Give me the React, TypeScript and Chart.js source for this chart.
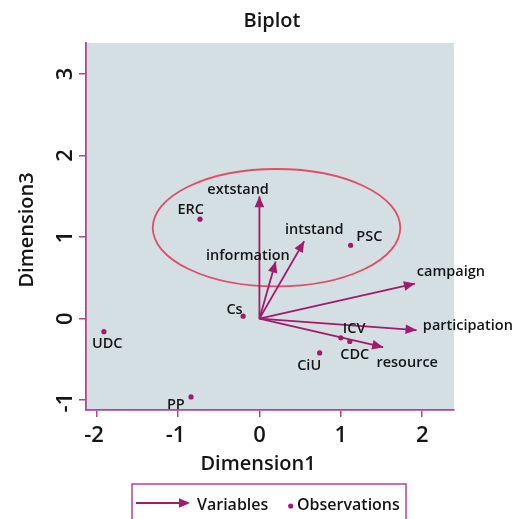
import React, { useEffect, useRef } from "react";
import { Chart, registerables } from "chart.js";
Chart.register(...registerables);

// ---- data ----
const obsNames = ["ERC", "PSC", "Cs", "UDC", "PP", "CiU", "ICV", "CDC"];
const obsX = [-0.73, 1.12, -0.2, -1.91, -0.84, 0.74, 1.0, 1.11];
const obsY = [1.22, 0.9, 0.03, -0.16, -0.96, -0.42, -0.235, -0.28];

const varNames = ["extstand", "intstand", "information", "campaign", "participation", "resource"];
const varX = [0.0, 0.55, 0.2, 1.91, 1.93, 1.52];
const varY = [1.5, 0.95, 0.7, 0.43, -0.14, -0.35];

const xTicks = [-2, -1, 0, 1, 2];
const yTicks = [-1, 0, 1, 2, 3];
const xTickLabels = ["-2", "-1", "0", "1", "2"];
const yTickLabels = ["-1", "0", "1", "2", "3"];

const ellipseCenter = [0.21, 1.115];
const ellipseRadii = [1.52, 0.72];

const titleText = "Biplot";
const xTitle = "Dimension1";
const yTitle = "Dimension3";
const legendLabels = ["Variables", "Observations"];

// ---- styles (label offsets in px, text centred) ----
const obsLabelOffsets: [number, number][] = [
  [-9.3, -5], [18.7, -4.6], [-8.6, -2.4], [3.3, 16.6], [-15.2, 12.3], [-10.5, 17.3], [13.3, -4.4], [5, 18],
];
const varLabelOffsets: [number, number][] = [
  [-21.3, -2.7], [10, -7], [-27.8, -1.3], [36, -7.3], [51.3, 0], [24, 19.7],
];

const FONT = "'Open Sans', 'DejaVu Sans', sans-serif";
const plotBg = "#d3dfe2";
const markColor = "#a11a6c";
const axisColor = "#b5438e";
const ellipseColor = "#e24d68";
const textColor = "#151515";

const biplotPlugin = {
  id: "biplot",
  beforeDraw(chart: any) {
    const { ctx, chartArea: a } = chart;
    ctx.save();
    ctx.fillStyle = "#ffffff";
    ctx.fillRect(0, 0, chart.width, chart.height);
    ctx.fillStyle = plotBg;
    ctx.fillRect(a.left, a.top, a.right - a.left, a.bottom - a.top);
    ctx.restore();
  },
  beforeDatasetsDraw(chart: any) {
    const { ctx } = chart;
    const xs = chart.scales.x;
    const ys = chart.scales.y;
    const cx = xs.getPixelForValue(ellipseCenter[0]);
    const cy = ys.getPixelForValue(ellipseCenter[1]);
    const rx = xs.getPixelForValue(ellipseCenter[0] + ellipseRadii[0]) - cx;
    const ry = cy - ys.getPixelForValue(ellipseCenter[1] + ellipseRadii[1]);
    ctx.save();
    ctx.strokeStyle = ellipseColor;
    ctx.lineWidth = 1.8;
    ctx.beginPath();
    ctx.ellipse(cx, cy, rx, ry, 0, 0, Math.PI * 2);
    ctx.stroke();
    ctx.restore();
  },
  afterDatasetsDraw(chart: any) {
    const { ctx } = chart;
    ctx.save();
    ctx.font = `600 14.5px ${FONT}`;
    ctx.textAlign = "center";
    ctx.textBaseline = "alphabetic";
    for (let i = 0; i < varNames.length; i++) {
      const meta = chart.getDatasetMeta(i + 1);
      const p0 = meta.data[0];
      const p1 = meta.data[1];
      const ang = Math.atan2(p1.y - p0.y, p1.x - p0.x);
      const L = 11, W = 4.8;
      ctx.fillStyle = markColor;
      ctx.beginPath();
      ctx.moveTo(p1.x, p1.y);
      ctx.lineTo(p1.x - L * Math.cos(ang) + W * Math.sin(ang), p1.y - L * Math.sin(ang) - W * Math.cos(ang));
      ctx.lineTo(p1.x - L * Math.cos(ang) - W * Math.sin(ang), p1.y - L * Math.sin(ang) + W * Math.cos(ang));
      ctx.closePath();
      ctx.fill();
      ctx.fillStyle = textColor;
      const [dx, dy] = varLabelOffsets[i];
      ctx.fillText(varNames[i], p1.x + dx, p1.y + dy);
    }
    const om = chart.getDatasetMeta(0);
    for (let i = 0; i < obsNames.length; i++) {
      const p = om.data[i];
      const [dx, dy] = obsLabelOffsets[i];
      ctx.fillStyle = textColor;
      ctx.fillText(obsNames[i], p.x + dx, p.y + dy);
    }
    ctx.restore();
  },
  afterDraw(chart: any) {
    const { ctx } = chart;
    const xs = chart.scales.x;
    const ys = chart.scales.y;
    ctx.save();
    ctx.fillStyle = textColor;
    ctx.textAlign = "center";
    ctx.textBaseline = "alphabetic";
    // title
    ctx.font = `600 20px ${FONT}`;
    ctx.fillText(titleText, 272, 27);
    // tick labels
    ctx.font = `600 22px ${FONT}`;
    xTicks.forEach((v, i) => {
      const lab = xTickLabels[i];
      const shift = lab.startsWith("-") ? 2.5 : 0;
      ctx.fillText(lab, xs.getPixelForValue(v) - shift, 442);
    });
    yTicks.forEach((v, i) => {
      const lab = yTickLabels[i];
      const shift = lab.startsWith("-") ? 2.5 : 0;
      ctx.save();
      ctx.translate(72, ys.getPixelForValue(v) + shift);
      ctx.rotate(-Math.PI / 2);
      ctx.fillText(lab, 0, 0);
      ctx.restore();
    });
    // axis titles
    ctx.font = `600 20px ${FONT}`;
    ctx.fillText(xTitle, 258, 470);
    ctx.save();
    ctx.translate(33, 230);
    ctx.rotate(-Math.PI / 2);
    ctx.fillText(yTitle, 0, 0);
    ctx.restore();

    // legend
    ctx.strokeStyle = axisColor;
    ctx.lineWidth = 1.5;
    ctx.strokeRect(132, 484, 274, 50);
    ctx.strokeStyle = markColor;
    ctx.lineWidth = 1.8;
    ctx.beginPath();
    ctx.moveTo(136, 503);
    ctx.lineTo(182, 503);
    ctx.stroke();
    ctx.fillStyle = markColor;
    ctx.beginPath();
    ctx.moveTo(190, 503);
    ctx.lineTo(179, 498.2);
    ctx.lineTo(179, 507.8);
    ctx.closePath();
    ctx.fill();
    ctx.beginPath();
    ctx.arc(290.7, 506, 2.6, 0, Math.PI * 2);
    ctx.fill();
    ctx.fillStyle = textColor;
    ctx.font = `600 16px ${FONT}`;
    ctx.textAlign = "left";
    ctx.fillText(legendLabels[0], 197, 510);
    ctx.fillText(legendLabels[1], 297, 510);
    ctx.restore();
  },
};

export default function App() {
  const ref = useRef<HTMLCanvasElement | null>(null);
  useEffect(() => {
    if (!ref.current) return;
    const datasets: any[] = [
      {
        label: "Observations",
        data: obsX.map((x, i) => ({ x, y: obsY[i] })),
        pointRadius: 2.6,
        pointBackgroundColor: markColor,
        pointBorderWidth: 0,
        showLine: false,
      },
      ...varNames.map((n, i) => ({
        label: n,
        data: [
          { x: 0, y: 0 },
          { x: varX[i], y: varY[i] },
        ],
        showLine: true,
        borderColor: markColor,
        borderWidth: 1.8,
        pointRadius: 0,
        fill: false,
      })),
    ];
    const chart = new Chart(ref.current, {
      type: "scatter",
      data: { datasets },
      plugins: [biplotPlugin],
      options: {
        animation: false,
        responsive: false,
        layout: { padding: { top: 43, right: 66, left: 0, bottom: 0 } },
        plugins: { legend: { display: false }, title: { display: false }, tooltip: { enabled: false } },
        scales: {
          x: {
            type: "linear",
            min: -2.13,
            max: 2.39,
            afterBuildTicks: (s: any) => {
              s.ticks = xTicks.map((v) => ({ value: v }));
            },
            afterFit: (s: any) => {
              s.height = 109;
            },
            ticks: { display: false },
            grid: { drawOnChartArea: false, drawTicks: true, tickLength: 7, color: axisColor, lineWidth: 1.5 },
            border: { display: true, color: axisColor, width: 1.8 },
          },
          y: {
            type: "linear",
            min: -1.12,
            max: 3.38,
            afterBuildTicks: (s: any) => {
              s.ticks = yTicks.map((v) => ({ value: v }));
            },
            afterFit: (s: any) => {
              s.width = 86;
            },
            ticks: { display: false },
            grid: { drawOnChartArea: false, drawTicks: true, tickLength: 7, color: axisColor, lineWidth: 1.5 },
            border: { display: true, color: axisColor, width: 1.8 },
          },
        },
      } as any,
    });
    (document as any).fonts?.ready?.then(() => chart.draw());
    return () => chart.destroy();
  }, []);
  return (
    <div style={{ position: "fixed", left: 0, top: 0, width: 520, height: 519, background: "#fff" }}>
      <canvas ref={ref} width={520} height={519} style={{ display: "block" }} />
    </div>
  );
}
